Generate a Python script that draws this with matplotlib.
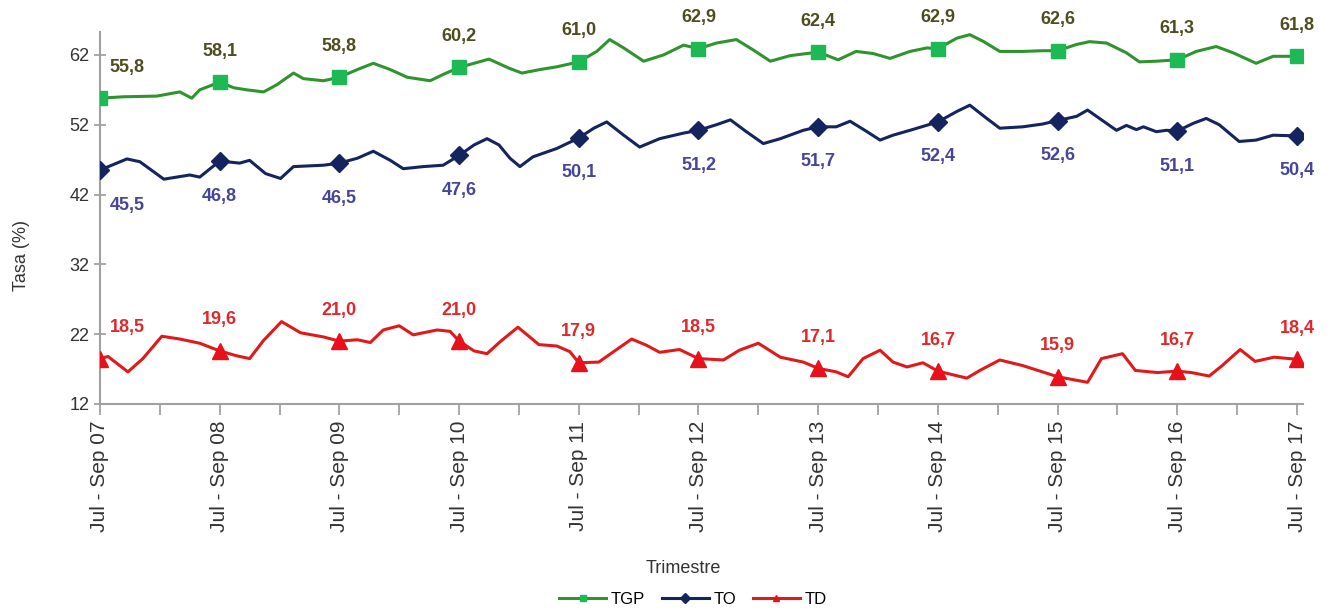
import numpy as np
import matplotlib
matplotlib.use('Agg')
import matplotlib.pyplot as plt

plt.rcParams['font.family'] = ['Liberation Sans', 'DejaVu Sans']

# month index (0 = Jul-Sep 07) and rate values
tgp_mes = [0, 2.3, 5.7, 8, 9.2, 10,
           12, 13.4, 14.7, 16.4, 17.7, 19.4, 20.4, 22.4,
           24, 25.8, 27.4, 29.1, 30.8, 33.1, 34.4,
           36, 37.5, 39, 41, 42.3, 44.1, 45.8,
           48, 49.8, 51.1, 52.5, 54.5, 56.5, 58.5,
           60, 61.8, 63.8, 65.5, 67.2, 69.2,
           72, 74, 75.8, 77.5, 79.2, 81.2, 82.9,
           84, 85.9, 87.2, 88.6, 90.2, 92.5, 94.5,
           96, 97.9, 99.2, 100.9, 102.9, 104.2, 105.9,
           108, 109.9, 111.9, 113.6, 115.9, 117.6, 120]
tgp_val = [55.8, 56.0, 56.1, 56.7, 55.8, 57.0,
           58.1, 57.3, 57.0, 56.7, 57.7, 59.4, 58.6, 58.3,
           58.8, 59.9, 60.8, 59.9, 58.8, 58.3, 59.2,
           60.2, 60.8, 61.4, 60.1, 59.4, 59.9, 60.3,
           61.0, 62.5, 64.2, 63.0, 61.1, 62.0, 63.4,
           62.9, 63.7, 64.2, 62.7, 61.1, 61.9,
           62.4, 61.3, 62.5, 62.2, 61.5, 62.5, 63.0,
           62.9, 64.4, 64.9, 63.9, 62.5, 62.5, 62.6,
           62.6, 63.5, 63.9, 63.7, 62.3, 61.0, 61.1,
           61.3, 62.5, 63.2, 62.3, 60.8, 61.8, 61.8]

to_mes = [0, 2.7, 4, 6.4, 9, 10,
          12, 14, 15, 16.6, 18.1, 19.4, 22.4,
          24, 25.8, 27.4, 29.1, 30.4, 32.4, 34.4,
          36, 37.5, 38.8, 40, 41.1, 42.1, 43.4, 45.8,
          48, 49.5, 50.8, 52.5, 54.1, 56.1, 58.5,
          60, 61.8, 63.2, 64.8, 66.5, 68.2, 70.5,
          72, 73.8, 75.2, 76.9, 78.2, 79.5, 81.2,
          84, 85.9, 87.2, 88.9, 90.2, 92.5, 94.5,
          96, 97.9, 99, 100.2, 101.9, 102.9, 103.9, 104.6, 105.9, 106.9,
          108, 109.6, 110.9, 112.2, 114.2, 115.9, 117.6, 120]
to_val = [45.5, 47.1, 46.7, 44.2, 44.8, 44.5,
          46.8, 46.5, 46.9, 45.0, 44.3, 46.0, 46.2,
          46.5, 47.2, 48.2, 46.9, 45.7, 46.0, 46.2,
          47.6, 49.1, 50.0, 49.1, 47.2, 46.0, 47.4, 48.6,
          50.1, 51.5, 52.4, 50.5, 48.8, 50.0, 50.8,
          51.2, 52.0, 52.7, 51.0, 49.3, 50.0, 51.2,
          51.7, 51.7, 52.5, 51.0, 49.8, 50.5, 51.2,
          52.4, 53.9, 54.8, 52.9, 51.5, 51.7, 52.1,
          52.6, 53.2, 54.1, 52.9, 51.2, 51.9, 51.3, 51.7, 51.0, 51.2,
          51.1, 52.2, 52.9, 52.0, 49.6, 49.8, 50.5, 50.4]

td_mes = [0, 0.8, 2.8, 4.3, 6.2, 8, 10,
          12, 13.7, 15, 16.4, 18.2, 20.1, 22.4,
          24, 25.8, 27.1, 28.4, 30, 31.4, 33.8, 35.1,
          36, 37.5, 38.8, 40.1, 41.9, 44, 45.8, 47.1,
          48, 50, 51.5, 53.3, 54.8, 56.1, 58.1,
          60, 62.5, 64.1, 66, 68.2, 70.5,
          72, 73.8, 75, 76.5, 78.2, 79.5, 80.9, 82.5,
          84, 86.9, 88.2, 90.2, 92.5,
          96, 99, 100.4, 102.5, 103.8, 106,
          108, 109.4, 111.2, 112.5, 114.3, 115.8, 117.7, 120]
td_val = [18.5, 18.8, 16.6, 18.5, 21.7, 21.3, 20.7,
          19.6, 18.9, 18.5, 21.1, 23.8, 22.2, 21.6,
          21.0, 21.2, 20.8, 22.6, 23.2, 21.9, 22.6, 22.4,
          21.0, 19.6, 19.2, 20.9, 23.0, 20.5, 20.3, 19.5,
          17.9, 18.0, 19.5, 21.3, 20.4, 19.4, 19.8,
          18.5, 18.3, 19.7, 20.7, 18.7, 18.0,
          17.1, 16.6, 15.9, 18.5, 19.7, 18.0, 17.3, 17.9,
          16.7, 15.7, 16.8, 18.3, 17.5,
          15.9, 15.1, 18.5, 19.2, 16.8, 16.5,
          16.7, 16.5, 16.0, 17.5, 19.8, 18.1, 18.7, 18.4]

# labelled points (Jul-Sep of each year)
etiq_mes = list(range(0, 121, 12))
etiquetas = ['Jul - Sep 07', 'Jul - Sep 08', 'Jul - Sep 09', 'Jul - Sep 10',
             'Jul - Sep 11', 'Jul - Sep 12', 'Jul - Sep 13', 'Jul - Sep 14',
             'Jul - Sep 15', 'Jul - Sep 16', 'Jul - Sep 17']
tgp_etiq = [55.8, 58.1, 58.8, 60.2, 61.0, 62.9, 62.4, 62.9, 62.6, 61.3, 61.8]
to_etiq = [45.5, 46.8, 46.5, 47.6, 50.1, 51.2, 51.7, 52.4, 52.6, 51.1, 50.4]
td_etiq = [18.5, 19.6, 21.0, 21.0, 17.9, 18.5, 17.1, 16.7, 15.9, 16.7, 18.4]

fig = plt.figure(figsize=(13.33, 6.13), dpi=100)
ax = fig.add_axes([0.075, 0.341, 0.9025, 0.607])

series = [
    ('TGP', tgp_mes, tgp_val, tgp_etiq, '#2e952e', '#1db954', 's', 10.5, '#4d4d1f', 31),
    ('TO', to_mes, to_val, to_etiq, '#14245e', '#14245e', 'D', 9, '#45459a', -35),
    ('TD', td_mes, td_val, td_etiq, '#e01a1a', '#e8101a', '^', 11, '#e0282c', 31),
]

for nombre, mes, val, etiq, col_l, col_m, mk, ms, col_t, off in series:
    ax.plot(mes, val, color=col_l, lw=2.2, zorder=2)
    ax.plot(etiq_mes, etiq, ls='none', marker=mk, ms=ms, color=col_m, zorder=3)
    for i, (m, v) in enumerate(zip(etiq_mes, etiq)):
        dx = 27 if i == 0 else 0
        ax.annotate(f'{v:.1f}'.replace('.', ','), (m, v), xytext=(dx, off),
                    textcoords='offset pixels', ha='center', va='center',
                    fontsize=13, fontweight='bold', color=col_t)

# legend handles
for nombre, mes, val, etiq, col_l, col_m, mk, ms, col_t, off in series:
    ax.plot([], [], color=col_l, lw=2.2, marker=mk, ms=5, mfc=col_m, mec=col_m, label=nombre)

ax.set_xlim(0, 120.6)
ax.set_ylim(12, 65.3)
ax.set_yticks([12, 22, 32, 42, 52, 62])
ax.set_xticks(etiq_mes)
ax.set_xticklabels(etiquetas, rotation=90, fontsize=15, color='#333333')
ax.set_xticks(list(range(6, 121, 12)), minor=True)
ax.tick_params(axis='y', labelsize=13, labelcolor='#333333', color='#999999',
               direction='inout', length=8, width=1.2)
ax.tick_params(axis='x', which='both', direction='out', length=8, width=1.2,
               color='#999999', pad=4)

for s in ['top', 'right']:
    ax.spines[s].set_visible(False)
for s in ['left', 'bottom']:
    ax.spines[s].set_color('#a0a0a0')
    ax.spines[s].set_linewidth(1.5)

ax.set_ylabel('Tasa (%)', fontsize=13, color='#333333')
ax.yaxis.set_label_coords(-0.058, 0.40)
ax.set_xlabel('Trimestre', fontsize=13, color='#333333')
ax.xaxis.set_label_coords(0.485, -0.42)

fig.legend(loc='center', bbox_to_anchor=(0.52, 0.022), ncol=3, frameon=False,
           fontsize=12, handlelength=2.8, columnspacing=1.0, handletextpad=0.3)

fig.savefig('out.png', dpi=100)
